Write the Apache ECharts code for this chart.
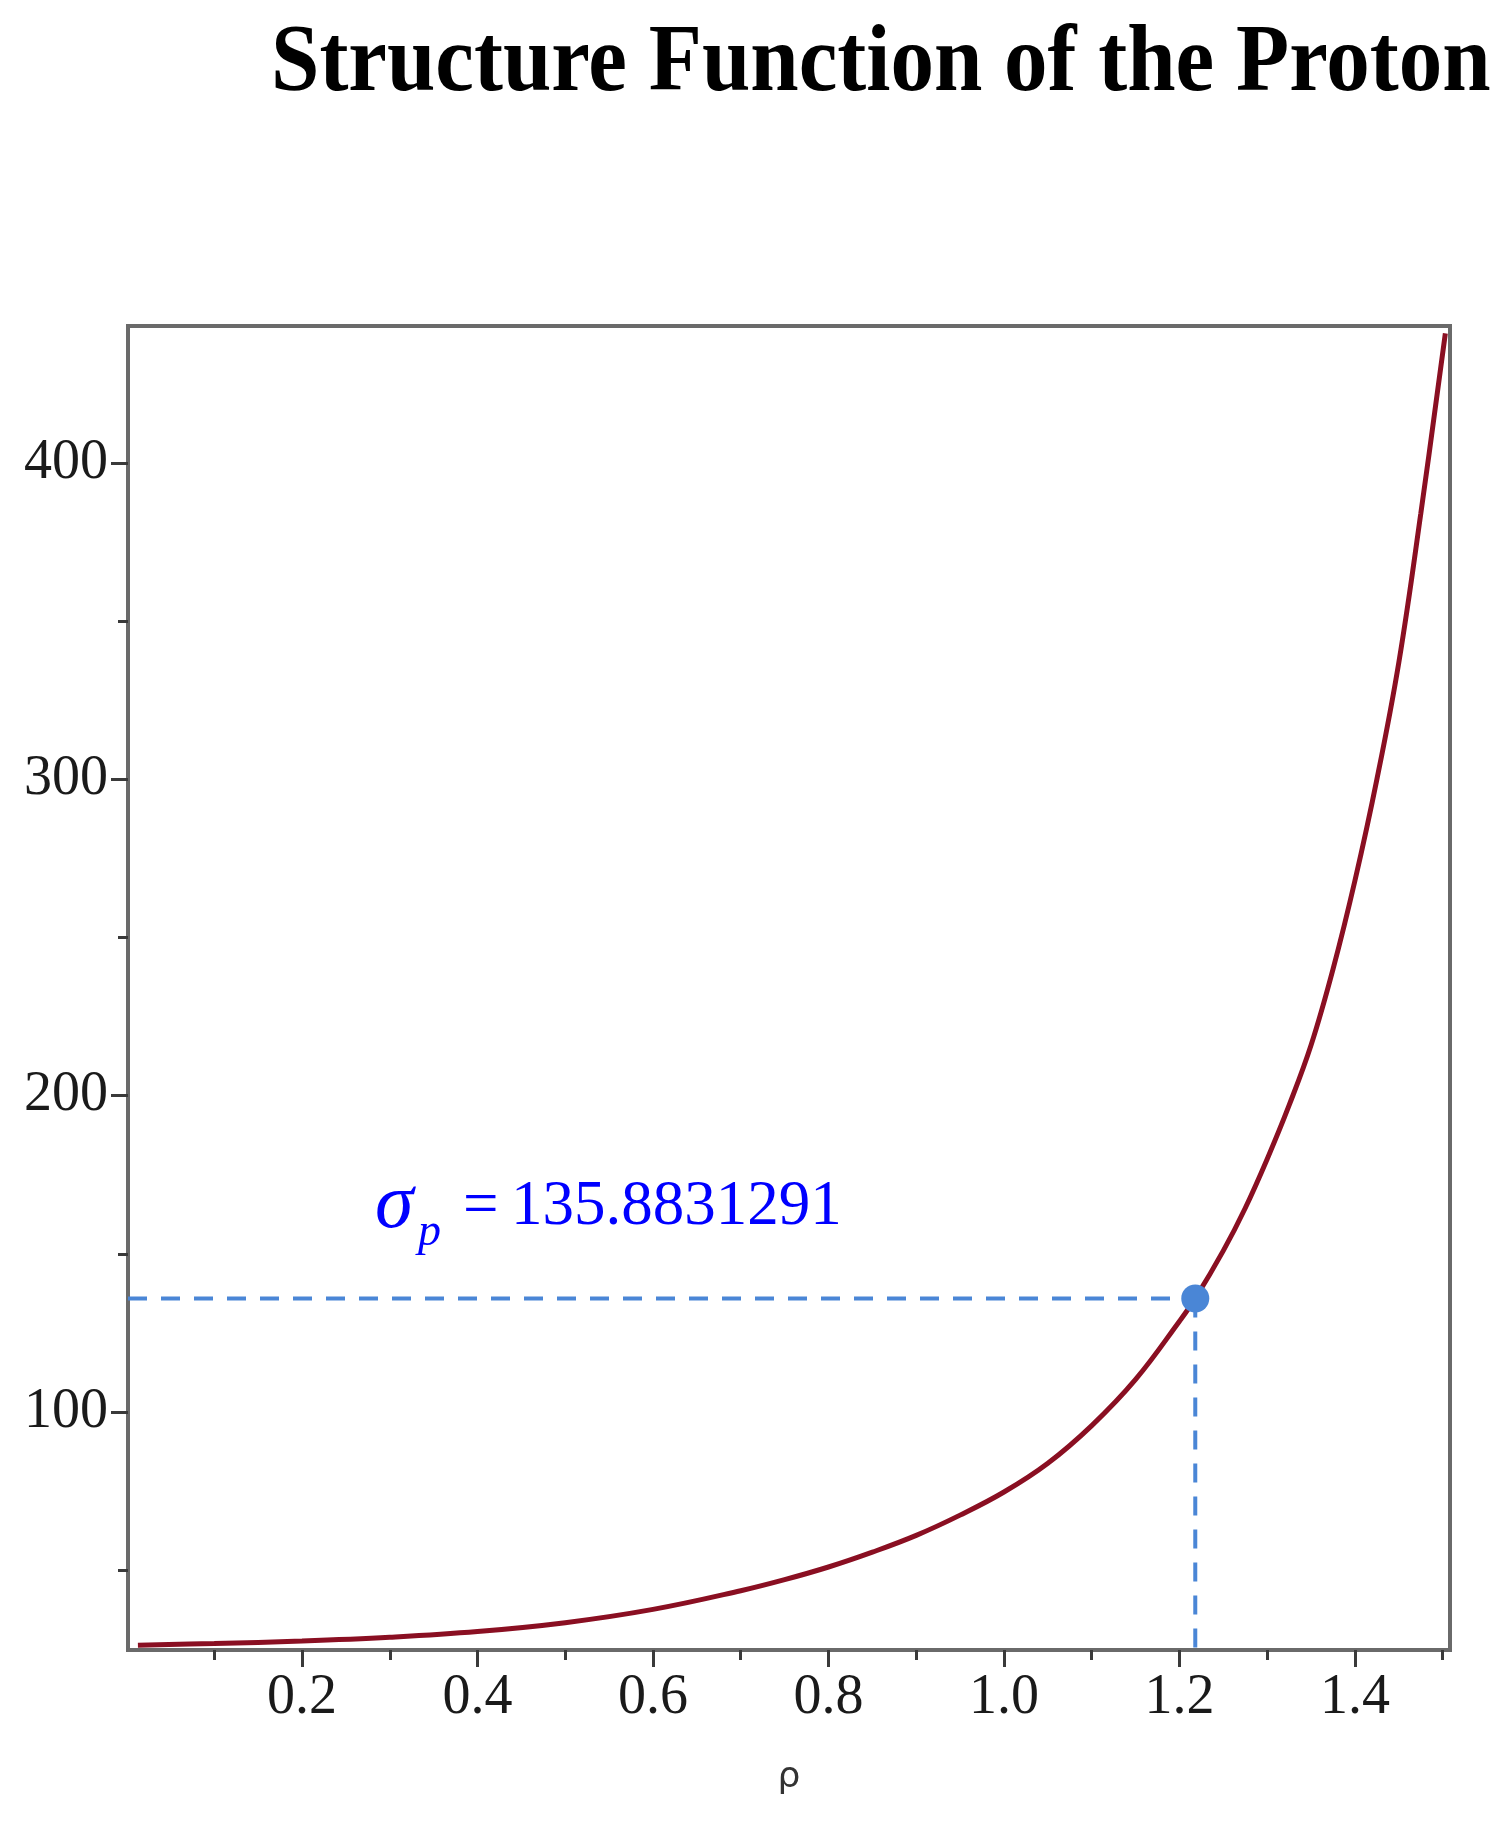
<!DOCTYPE html>
<html><head><meta charset="utf-8">
<script src="https://cdn.jsdelivr.net/npm/echarts@6/dist/echarts.min.js"></script>
<style>html,body{margin:0;padding:0;background:#fff}#c{width:1505px;height:1830px}</style>
</head><body><div id="c"></div>
<script>
// Curve samples
const rho   = [0.013, 0.1, 0.2, 0.3, 0.4, 0.5, 0.6, 0.7, 0.75, 0.8, 0.85, 0.9, 0.95, 1.0, 1.05, 1.1, 1.15, 1.2, 1.218, 1.25, 1.275, 1.3, 1.325, 1.35, 1.375, 1.4, 1.425, 1.45, 1.475, 1.503];
const sigma = [26.3, 26.8, 27.6, 28.8, 30.6, 33.4, 37.6, 43.5, 47.0, 51.0, 55.7, 61.0, 67.4, 74.7, 83.8, 95.7, 110.3, 128.7, 135.9, 151.0, 164.5, 180.0, 197.0, 216.0, 240.0, 268.0, 300.0, 337.0, 384.0, 441.0];
// Highlighted point
const pointRho = 1.218;
const pointSigma = 135.8831291;
// Axis ticks
const xLabelTicks = [0.2, 0.4, 0.6, 0.8, 1.0, 1.2, 1.4];
const xMinorTicks = [0.1, 0.3, 0.5, 0.7, 0.9, 1.1, 1.3, 1.5];
const yLabelTicks = [100, 200, 300, 400];
const yMinorTicks = [50, 150, 250, 350];
const xRange = [0.0017, 1.5083];
const yRange = [24.76, 443.31];
const titleText = 'Structure Function of the Proton';
const xName = 'ρ';

const chart = echarts.init(document.getElementById('c'), null, {renderer: 'canvas', devicePixelRatio: 1});
const serif = '"Liberation Serif", "Times New Roman", serif';
const axisGray = '#6a6a6a';
const tickCol = '#3a3a3a';
const blue = '#4a86d6';

const option = {
  backgroundColor: '#ffffff',
  animation: false,
  grid: {left: 128, right: 55, top: 326, bottom: 180, containLabel: false, outerBoundsMode: 'none',
    show: true, borderColor: axisGray, borderWidth: 4, backgroundColor: 'transparent'},
  xAxis: [
    {type: 'value', position: 'bottom', min: xRange[0], max: xRange[1],
     name: xName, nameLocation: 'middle', nameGap: 110,
     nameTextStyle: {fontFamily: '"DejaVu Sans", sans-serif', fontSize: 36, color: '#333'},
     axisLine: {show: true, lineStyle: {color: axisGray, width: 4}},
     axisTick: {show: true, inside: false, length: 17, customValues: xLabelTicks, lineStyle: {color: tickCol, width: 3}},
     axisLabel: {show: true, customValues: xLabelTicks, margin: 20, fontFamily: serif, fontSize: 56, color: '#1a1a1a',
       formatter: v => Number(v).toFixed(1)},
     splitLine: {show: false}},
    {type: 'value', position: 'bottom', min: xRange[0], max: xRange[1],
     axisLine: {show: false}, axisLabel: {show: false}, splitLine: {show: false},
     axisTick: {show: true, length: 10, customValues: xMinorTicks, lineStyle: {color: tickCol, width: 3}}}
  ],
  yAxis: [
    {type: 'value', position: 'left', min: yRange[0], max: yRange[1],
     axisLine: {show: true, lineStyle: {color: axisGray, width: 4}},
     axisTick: {show: true, length: 17, customValues: yLabelTicks, lineStyle: {color: tickCol, width: 3}},
     axisLabel: {show: true, customValues: yLabelTicks, margin: 20, fontFamily: serif, fontSize: 56, color: '#1a1a1a'},
     splitLine: {show: false}},
    {type: 'value', position: 'left', min: yRange[0], max: yRange[1],
     axisLine: {show: false}, axisLabel: {show: false}, splitLine: {show: false},
     axisTick: {show: true, length: 10, customValues: yMinorTicks, lineStyle: {color: tickCol, width: 3}}}
  ],
  series: [
    {type: 'line', name: 'guide-h', xAxisIndex: 0, yAxisIndex: 0, showSymbol: false, silent: true, z: 2,
     data: [[xRange[0], pointSigma], [pointRho, pointSigma]],
     lineStyle: {color: blue, width: 4, type: [19, 14]}},
    {type: 'line', name: 'guide-v', xAxisIndex: 0, yAxisIndex: 0, showSymbol: false, silent: true, z: 2,
     data: [[pointRho, pointSigma], [pointRho, yRange[0]]],
     lineStyle: {color: blue, width: 4, type: [19, 14]}},
    {type: 'line', name: 'sigma', xAxisIndex: 0, yAxisIndex: 0, showSymbol: false, smooth: 0.4, z: 3,
     data: rho.map((r, i) => [r, sigma[i]]),
     lineStyle: {color: '#8a0f22', width: 5}},
    {type: 'scatter', name: 'point', xAxisIndex: 0, yAxisIndex: 0, z: 4, symbolSize: 28,
     data: [[pointRho, pointSigma]], itemStyle: {color: blue, opacity: 1}}
  ],
  graphic: [
    {type: 'text', x: 271, y: 65, scaleY: 1.1, style: {text: titleText, fontFamily: serif, fontWeight: 'bold', fontSize: 87, fill: '#000', verticalAlign: 'middle', align: 'left'}},
    {type: 'text', x: 375, y: 1206, style: {text: 'σ', fontFamily: serif, fontStyle: 'italic', fontSize: 78, fill: '#0000ff', verticalAlign: 'middle', align: 'left'}},
    {type: 'text', x: 418, y: 1233, style: {text: 'p', fontFamily: serif, fontStyle: 'italic', fontSize: 46, fill: '#0000ff', verticalAlign: 'middle', align: 'left'}},
    {type: 'text', x: 463, y: 1207, style: {text: '=', fontFamily: serif, fontSize: 63, fill: '#0000ff', verticalAlign: 'middle', align: 'left'}},
    {type: 'text', x: 511, y: 1207, style: {text: '135.8831291', fontFamily: serif, fontSize: 63, fill: '#0000ff', verticalAlign: 'middle', align: 'left'}}
  ]
};
chart.setOption(option);
</script>
</body></html>
